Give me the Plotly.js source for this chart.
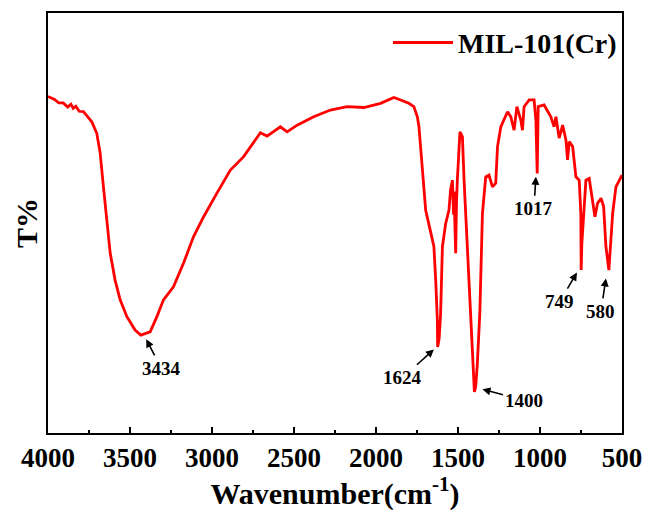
<!DOCTYPE html>
<html>
<head>
<meta charset="utf-8">
<script src="https://cdn.plot.ly/plotly-3.0.1.min.js"></script>
<style>html,body{margin:0;padding:0;background:#fff;}#chart{width:645px;height:511px;}</style>
</head>
<body>
<div id="chart"></div>
<script>
// Wavenumber (cm^-1) and transmittance (arbitrary units)
const wavenumber = [4000, 3960, 3935, 3907, 3880, 3860, 3846, 3830, 3810, 3784, 3760, 3733, 3703, 3682, 3662, 3641, 3621, 3591, 3560, 3519, 3469, 3434, 3377, 3336, 3296, 3235, 3174, 3113, 3051, 2970, 2888, 2807, 2746, 2705, 2664, 2583, 2542, 2481, 2380, 2278, 2176, 2074, 1972, 1891, 1850, 1800, 1769, 1748, 1738, 1728, 1717, 1697, 1667, 1647, 1636, 1626, 1624, 1615, 1606, 1595, 1575, 1555, 1545, 1534, 1527, 1524, 1519, 1514, 1509, 1504, 1488, 1473, 1463, 1443, 1422, 1406, 1400, 1392, 1382, 1367, 1351, 1331, 1311, 1290, 1270, 1259, 1239, 1198, 1178, 1158, 1141, 1117, 1107, 1097, 1066, 1036, 1025, 1017, 1011, 975, 934, 914, 903, 883, 862, 842, 832, 822, 801, 781, 761, 751, 749, 745, 734, 720, 700, 679, 665, 649, 628, 612, 598, 580, 572, 557, 537, 517, 500];
const transmittance = [80.1, 79.4, 78.6, 78.6, 77.6, 78.3, 77.3, 77.8, 76.6, 76.5, 75.4, 74.1, 71.4, 66.7, 58.6, 50.7, 42.9, 36.4, 31.7, 27.7, 24.5, 23.3, 24.1, 27.7, 31.7, 34.8, 40.4, 46.7, 51.5, 57.1, 62.6, 65.8, 69.4, 71.5, 70.7, 72.9, 71.7, 73.3, 75.3, 76.9, 77.7, 77.5, 78.5, 79.9, 79.3, 78.5, 77.7, 75.3, 72.9, 68.2, 62.6, 53.0, 47.9, 44.4, 36.4, 26.9, 20.5, 22.5, 28.5, 44.4, 49.9, 53.1, 58.0, 60.2, 52.0, 57.5, 50.0, 42.8, 55.0, 60.2, 71.7, 70.5, 60.2, 44.4, 28.5, 12.6, 9.8, 11.0, 16.6, 28.5, 52.3, 61.0, 61.4, 58.6, 59.5, 68.2, 72.9, 76.5, 75.3, 72.1, 77.7, 74.5, 72.1, 77.7, 79.3, 79.3, 74.5, 61.8, 77.7, 78.1, 75.3, 72.9, 75.3, 70.2, 73.3, 69.8, 65.0, 69.4, 68.2, 61.0, 60.2, 52.3, 38.8, 45.0, 52.3, 60.2, 60.6, 55.5, 51.5, 54.7, 55.9, 53.9, 44.4, 38.8, 42.8, 52.3, 58.6, 60.2, 61.4];
const seriesName = 'MIL-101(Cr)';
const xTickVals = [4000, 3500, 3000, 2500, 2000, 1500, 1000, 500];

// Peak labels: label text and arrow head (wavenumber, T)
const peakLabels = ['3434', '1624', '1400', '1017', '749', '580'];
const peakHeadX = [3401, 1647, 1351, 1025, 775, 598];
const peakHeadY = [22.3, 19.9, 10.4, 61.0, 38.2, 36.8];

const FONT = 'Liberation Serif, Times New Roman, serif';

// pixel offsets of each label centre from its arrow head (style, not data)
const labelDX = [15, -31, 42, -2, -17, -5];
const labelDY = [29, 28, 11, 32, 29, 33];

const annotations = peakLabels.map((lab, i) => ({
  x: peakHeadX[i], y: peakHeadY[i], xref: 'x', yref: 'y',
  text: lab, showarrow: true, ax: labelDX[i], ay: labelDY[i],
  arrowhead: 2, arrowsize: 1, arrowwidth: 1.6, arrowcolor: '#000', standoff: 0, startstandoff: 1,
  font: {family: FONT, size: 19, color: '#000', weight: 'bold'}
}));

const trace = {
  x: wavenumber, y: transmittance, type: 'scatter', mode: 'lines',
  name: seriesName, line: {color: '#ff0000', width: 2.8}
};

const layout = {
  width: 645, height: 511,
  margin: {l: 48, r: 23, t: 13, b: 78},
  paper_bgcolor: '#ffffff', plot_bgcolor: '#ffffff',
  font: {family: FONT, color: '#000', weight: 'bold'},
  showlegend: true,
  legend: {
    x: 1, xanchor: 'right', y: 0.929, yanchor: 'middle',
    bgcolor: 'rgba(0,0,0,0)', borderwidth: 0,
    font: {family: FONT, size: 28, color: '#000', weight: 'bold'},
    itemwidth: 60
  },
  xaxis: {
    range: [4000, 500], autorange: false,
    tickvals: xTickVals, ticktext: xTickVals.map(String),
    ticks: 'inside', ticklen: 6, tickwidth: 2, tickcolor: '#000',
    minor: {ticks: 'inside', ticklen: 3, tickwidth: 2, tickcolor: '#000', dtick: 250, tick0: 500},
    showline: true, linecolor: '#000', linewidth: 2, mirror: true,
    showgrid: false, zeroline: false,
    tickfont: {family: FONT, size: 27, color: '#000', weight: 'bold'},
    title: {text: 'Wavenumber(cm<sup>-1</sup>)', font: {family: FONT, size: 30, color: '#000', weight: 'bold'}}
  },
  yaxis: {
    range: [0, 100], autorange: false,
    showticklabels: false, ticks: '',
    showline: true, linecolor: '#000', linewidth: 2, mirror: true,
    showgrid: false, zeroline: false,
    title: {text: 'T%', standoff: 0, font: {family: FONT, size: 30, color: '#000', weight: 'bold'}}
  },
  annotations: annotations
};

Plotly.newPlot('chart', [trace], layout, {displayModeBar: false, staticPlot: true});
</script>
</body>
</html>
